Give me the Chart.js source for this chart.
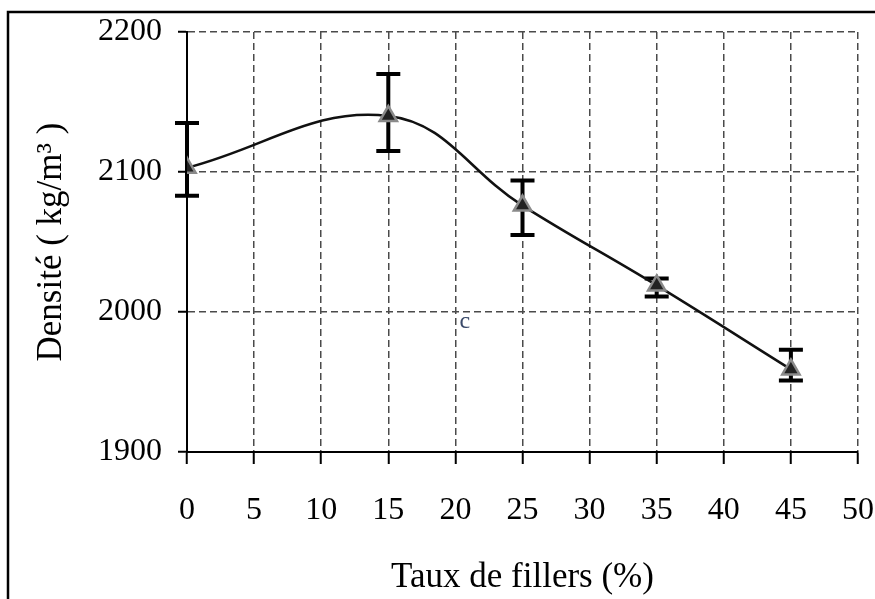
<!DOCTYPE html>
<html>
<head>
<meta charset="utf-8">
<script src="https://cdn.jsdelivr.net/npm/chart.js@4.4.0/dist/chart.umd.min.js"></script>
<style>
  html, body { margin: 0; padding: 0; background: #fff; }
  #wrap { width: 875px; height: 599px; }
</style>
</head>
<body>
<div id="wrap"><canvas id="myChart" width="875" height="599"></canvas></div>
<script>
// donnees
var taux = [0, 15, 25, 35, 45];
var densite = [2103, 2140, 2076, 2019, 1959];
var errPlus = [32, 30, 18, 5, 14];
var errMoins = [20, 25, 21, 8, 8];

var xTicks = [0, 5, 10, 15, 20, 25, 30, 35, 40, 45, 50];
var yTicks = [1900, 2000, 2100, 2200];

var titreX = 'Taux de fillers (%)';
var titreY = 'Densité ( kg/m³ )';
var noteTexte = 'c';
var notePos = [20.3, 1993];

var police = '"Liberation Serif", "Times New Roman", serif';

var points = taux.map(function (t, i) { return { x: t, y: densite[i] }; });

// cadre exterieur
var cadrePlugin = {
  id: 'cadre',
  beforeDraw: function (chart) {
    var ctx = chart.ctx;
    ctx.save();
    ctx.fillStyle = '#fff';
    ctx.fillRect(0, 0, chart.width, chart.height);
    ctx.strokeStyle = '#000';
    ctx.lineWidth = 2.5;
    ctx.beginPath();
    ctx.moveTo(8, chart.height);
    ctx.lineTo(8, 12);
    ctx.lineTo(chart.width, 12);
    ctx.stroke();
    ctx.restore();
  }
};

// barres d'erreur + petite note
var erreurPlugin = {
  id: 'erreurs',
  beforeDatasetsDraw: function (chart) {
    var ctx = chart.ctx;
    var sx = chart.scales.x, sy = chart.scales.y;
    ctx.save();
    ctx.strokeStyle = '#000';
    ctx.lineWidth = 4;
    ctx.lineCap = 'butt';
    for (var i = 0; i < taux.length; i++) {
      var px = sx.getPixelForValue(taux[i]);
      var haut = sy.getPixelForValue(densite[i] + errPlus[i]);
      var bas = sy.getPixelForValue(densite[i] - errMoins[i]);
      ctx.beginPath();
      ctx.moveTo(px, haut);
      ctx.lineTo(px, bas);
      ctx.moveTo(px - 12, haut);
      ctx.lineTo(px + 12, haut);
      ctx.moveTo(px - 12, bas);
      ctx.lineTo(px + 12, bas);
      ctx.stroke();
    }
    ctx.restore();
  },
  afterDraw: function (chart) {
    var ctx = chart.ctx;
    ctx.save();
    ctx.fillStyle = '#3a4a6a';
    ctx.font = '24px ' + police;
    ctx.textBaseline = 'middle';
    ctx.fillText(noteTexte, chart.scales.x.getPixelForValue(notePos[0]), chart.scales.y.getPixelForValue(notePos[1]));
    ctx.restore();
  }
};

var ctx = document.getElementById('myChart').getContext('2d');
var myChart = new Chart(ctx, {
  type: 'line',
  data: {
    datasets: [{
      label: 'Densité',
      data: points,
      borderColor: '#111',
      borderWidth: 2.5,
      tension: 0.4,
      fill: false,
      pointStyle: 'triangle',
      pointRadius: 10,
      pointBackgroundColor: '#222',
      pointBorderColor: '#8a8a8a',
      pointBorderWidth: 2.5
    }]
  },
  options: {
    responsive: false,
    animation: false,
    layout: { padding: { left: 0, top: 32, right: 17, bottom: 0 } },
    plugins: {
      legend: { display: false },
      tooltip: { enabled: false }
    },
    scales: {
      x: {
        type: 'linear',
        min: 0,
        max: 50,
        afterBuildTicks: function (s) { s.ticks = xTicks.map(function (v) { return { value: v }; }); },
        afterFit: function (s) { s.height = 599 - 452; s.paddingRight = 0; s.paddingLeft = 0; },
        grid: {
          color: '#4a4a4a',
          lineWidth: 1.5,
          tickLength: 12,
          tickColor: '#000',
          tickWidth: 2,
          tickBorderDash: []
        },
        border: { display: true, color: '#000', width: 2, dash: [7, 4] },
        ticks: {
          color: '#000',
          padding: 27,
          maxRotation: 0,
          callback: function (v) { return String(v); },
          font: { family: police, size: 32 }
        },
        title: {
          display: true,
          text: titreX,
          color: '#000',
          padding: { top: 0, bottom: 0 },
          font: { family: police, size: 35 }
        }
      },
      y: {
        min: 1900,
        max: 2200,
        afterBuildTicks: function (s) { s.ticks = yTicks.map(function (v) { return { value: v }; }); },
        afterFit: function (s) { s.width = 187; s.paddingTop = 0; s.paddingBottom = 0; },
        grid: {
          color: '#4a4a4a',
          lineWidth: 1.5,
          tickLength: 9,
          tickColor: '#000',
          tickWidth: 2,
          tickBorderDash: []
        },
        border: { display: true, color: '#000', width: 2, dash: [7, 4] },
        ticks: {
          color: '#000',
          padding: 16,
          callback: function (v) { return String(v); },
          font: { family: police, size: 32 }
        },
        title: {
          display: true,
          text: titreY,
          color: '#000',
          padding: { top: 31, bottom: 0 },
          font: { family: police, size: 35 }
        }
      }
    }
  },
  plugins: [cadrePlugin, erreurPlugin]
});
</script>
</body>
</html>
